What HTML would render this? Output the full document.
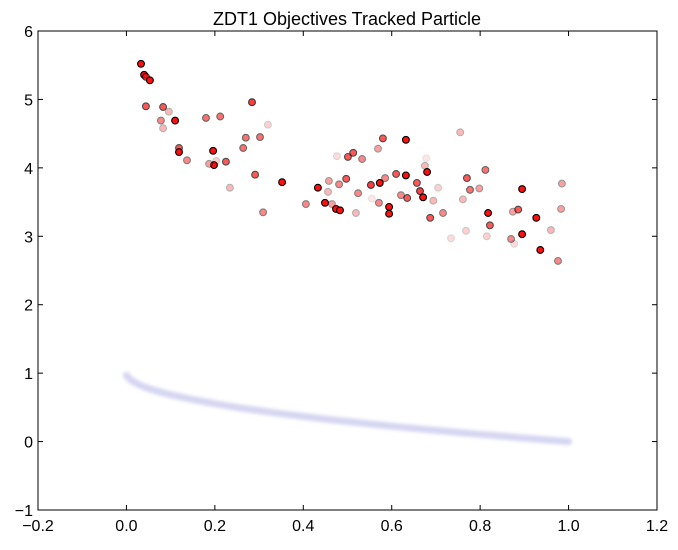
<!DOCTYPE html>
<html><head><meta charset="utf-8"><style>
body{margin:0;background:#fff;}
svg text{font-family:"Liberation Sans",sans-serif;}
</style></head><body>
<svg id="chart" width="678" height="545" viewBox="0 0 678 545" xmlns="http://www.w3.org/2000/svg">
<defs><filter id="blur" x="-10%" y="-50%" width="120%" height="200%"><feGaussianBlur stdDeviation="1.5"/></filter></defs>
<text x="347" y="25" text-anchor="middle" font-size="18">ZDT1 Objectives Tracked Particle</text>
<g id="front"></g>
<g id="pts"></g>
<rect x="38" y="31" width="619" height="479" fill="none" stroke="#000" stroke-width="1"/>
<g id="axes"></g>
</svg>
<script>
const xTicks=[-0.2,0.0,0.2,0.4,0.6,0.8,1.0,1.2];
const yTicks=[-1,0,1,2,3,4,5,6];
const frontX=[0,0.005,0.01,0.02,0.03,0.05,0.075,0.1,0.15,0.2,0.25,0.3,0.35,0.4,0.45,0.5,0.55,0.6,0.65,0.7,0.75,0.8,0.85,0.9,0.95,1];
const frontY=[0.97,0.93,0.9,0.859,0.827,0.776,0.726,0.684,0.613,0.553,0.5,0.452,0.408,0.368,0.329,0.293,0.258,0.225,0.194,0.163,0.134,0.106,0.078,0.051,0.025,0];
const ptX=[.033,.040,.044,.053,.044,.083,.096,.078,.083,.110,.180,.212,.284,.320,.119,.119,.137,.196,.198,.187,.203,.225,.264,.270,.302,.291,.234,.309,.352,.433,.449,.406,.465,.474,.483,.458,.481,.497,.456,.580,.632,.755,.476,.501,.513,.533,.569,.678,.675,.680,.632,.610,.585,.573,.553,.524,.519,.555,.571,.594,.594,.621,.635,.657,.664,.671,.694,.705,.687,.716,.734,.768,.761,.770,.777,.798,.812,.818,.822,.815,.874,.886,.895,.927,.870,.877,.895,.936,.960,.976,.983,.985];
const ptY=[5.52,5.36,5.33,5.28,4.90,4.89,4.82,4.69,4.58,4.69,4.73,4.75,4.96,4.63,4.29,4.23,4.11,4.25,4.04,4.06,4.10,4.09,4.29,4.44,4.45,3.90,3.71,3.35,3.79,3.71,3.49,3.47,3.47,3.40,3.38,3.81,3.76,3.84,3.65,4.43,4.41,4.52,4.17,4.16,4.22,4.13,4.28,4.14,4.03,3.94,3.89,3.91,3.85,3.78,3.75,3.63,3.34,3.55,3.49,3.43,3.33,3.60,3.56,3.78,3.66,3.57,3.52,3.71,3.27,3.34,2.97,3.08,3.54,3.85,3.68,3.70,3.97,3.34,3.16,3.00,3.36,3.39,3.69,3.27,2.96,2.89,3.03,2.80,3.09,2.64,3.40,3.77];
const ptA=[1,1,.8,1,.7,.7,.3,.5,.3,1,.6,.6,.8,.2,.7,1,.5,1,1,.4,.2,.7,.6,.6,.6,.7,.3,.5,1,1,1,.5,.4,1,1,.4,.5,.7,.3,.7,1,.3,.15,.7,.7,.5,.4,.1,.3,1,1,.7,.5,1,.8,.5,.3,.1,.5,1,1,.5,.7,.7,.8,1,.3,.2,.7,.5,.15,.2,.3,.7,.6,.4,.6,1,.7,.2,.4,.7,1,1,.5,.15,1,1,.3,.5,.4,.4];
const X0=38,X1=657,Y0=510,Y1=31;
const sx=v=>X0+(v+0.2)/1.4*(X1-X0);
const sy=v=>Y0-(v+1)/7*(Y0-Y1);
const NS="http://www.w3.org/2000/svg";
const mk=(t,a,p)=>{const e=document.createElementNS(NS,t);for(const k in a)e.setAttribute(k,a[k]);p.appendChild(e);return e;};
const front=document.getElementById('front');
const d=frontX.map((x,i)=>(i?'L':'M')+sx(x).toFixed(1)+','+sy(frontY[i]).toFixed(1)).join(' ');
const fl=mk('path',{d:d,fill:'none',stroke:'#cfcff0','stroke-width':7,'stroke-linecap':'round','stroke-linejoin':'round',filter:'url(#blur)',opacity:0.85},front);


const pts=document.getElementById('pts');
ptX.forEach((x,i)=>{
 const c=mk('circle',{cx:sx(x).toFixed(1),cy:sy(ptY[i]).toFixed(1),r:3.4,fill:'#ff1010',stroke:'#000','stroke-width':1.1,opacity:ptA[i]},pts);
 
 
});
const ax=document.getElementById('axes');
xTicks.forEach(v=>{
 const x=sx(v);
 mk('line',{x1:x,y1:Y0,x2:x,y2:Y0-5,stroke:'#000'},ax);
 mk('line',{x1:x,y1:Y1,x2:x,y2:Y1+5,stroke:'#000'},ax);
 const t=mk('text',{x:x,y:Y0+21,'text-anchor':'middle','font-size':16},ax);
 t.textContent=(v<0?'\u2212':'')+Math.abs(v).toFixed(1);
 
 
});
yTicks.forEach(v=>{
 const y=sy(v);
 mk('line',{x1:X0,y1:y,x2:X0+5,y2:y,stroke:'#000'},ax);
 mk('line',{x1:X1,y1:y,x2:X1-5,y2:y,stroke:'#000'},ax);
 const t=mk('text',{x:X0-5,y:y+6,'text-anchor':'end','font-size':16},ax);
 t.textContent=(v<0?'\u2212':'')+Math.abs(v);
 
 
});
</script>
</body></html>
